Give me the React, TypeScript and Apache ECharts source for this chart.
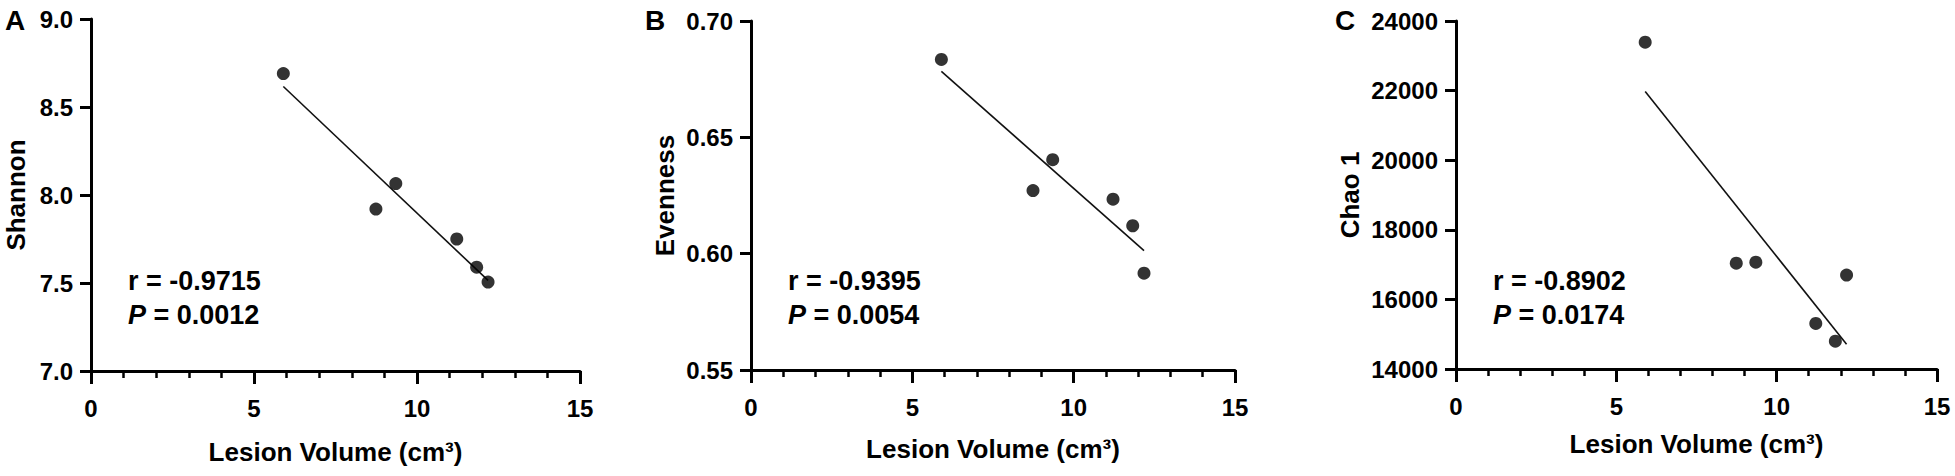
import React, { useEffect, useRef } from "react";
import * as echarts from "echarts";

// Lesion volume (cm³) of the six subjects (shared x values)
const volume = [5.9, 8.74, 9.35, 11.22, 11.83, 12.18];
// Panel values
const shannon = [8.69, 7.92, 8.065, 7.75, 7.59, 7.505];
const evenness = [0.6835, 0.6271, 0.6404, 0.6234, 0.612, 0.5916];
const chao1 = [23390, 17040, 17070, 15310, 14800, 16700];

const panelLetters = ["A", "B", "C"];
const yNames = ["Shannon", "Evenness", "Chao 1"];
const xName = "Lesion Volume (cm³)";
const rTexts = ["-0.9715", "-0.9395", "-0.8902"];
const pTexts = ["0.0012", "0.0054", "0.0174"];
const yMins = [7, 0.55, 14000];
const yMaxs = [9, 0.7, 24000];
const yIntervals = [0.5, 0.05, 2000];
const yDecimals = [1, 2, 0];

const FONT = '"Liberation Sans", Arial, Helvetica, sans-serif';

function fit(xs: number[], ys: number[]) {
  const n = xs.length;
  const mx = xs.reduce((a, b) => a + b, 0) / n;
  const my = ys.reduce((a, b) => a + b, 0) / n;
  let sxy = 0, sxx = 0;
  for (let i = 0; i < n; i++) {
    sxy += (xs[i] - mx) * (ys[i] - my);
    sxx += (xs[i] - mx) * (xs[i] - mx);
  }
  const slope = sxy / sxx;
  const x0 = Math.min(...xs);
  const x1 = Math.max(...xs);
  return [
    [x0, my + slope * (x0 - mx)],
    [x1, my + slope * (x1 - mx)],
  ];
}

export default function App() {
  const ref = useRef<HTMLDivElement>(null);
  useEffect(() => {
    if (!ref.current) return;
    const chart = echarts.init(ref.current, null, { renderer: "svg" });
    const values = [shannon, evenness, chao1];
    const grids = [
      { left: 91, top: 19, width: 489, height: 352 },
      { left: 751, top: 21, width: 484, height: 349 },
      { left: 1456, top: 21, width: 481, height: 348 },
    ];
    const yNameGaps = [62, 73, 93];
    const xNameGaps = [68, 66, 62];
    const letterX = [5, 645, 1335];

    const xAxis = grids.map((_, i) => ({
      type: "value",
      gridIndex: i,
      min: 0,
      max: 15,
      interval: 5,
      name: xName,
      nameLocation: "middle",
      nameGap: xNameGaps[i],
      nameTextStyle: { fontFamily: FONT, fontWeight: "bold", fontSize: 26, color: "#000" },
      axisLine: { show: true, onZero: false, lineStyle: { color: "#000", width: 3 } },
      axisTick: { show: true, length: 13, lineStyle: { color: "#000", width: 3 } },
      minorTick: { show: true, splitNumber: 5, length: 7, lineStyle: { color: "#000", width: 2.5 } },
      axisLabel: { fontFamily: FONT, fontWeight: "bold", fontSize: 24, color: "#000", margin: 25 },
      splitLine: { show: false },
      minorSplitLine: { show: false },
    }));

    const yAxis = grids.map((_, i) => ({
      type: "value",
      gridIndex: i,
      min: yMins[i],
      max: yMaxs[i],
      interval: yIntervals[i],
      name: yNames[i],
      nameLocation: "middle",
      nameGap: yNameGaps[i],
      nameTextStyle: { fontFamily: FONT, fontWeight: "bold", fontSize: 26, color: "#000" },
      axisLine: { show: true, onZero: false, lineStyle: { color: "#000", width: 3 } },
      axisTick: { show: true, length: 11, lineStyle: { color: "#000", width: 3 } },
      axisLabel: {
        fontFamily: FONT,
        fontWeight: "bold",
        fontSize: 24,
        color: "#000",
        margin: 18,
        formatter: (v: number) => v.toFixed(yDecimals[i]),
      },
      splitLine: { show: false },
    }));

    const series: any[] = [];
    values.forEach((ys, i) => {
      series.push({
        type: "line",
        xAxisIndex: i,
        yAxisIndex: i,
        data: fit(volume, ys),
        symbol: "none",
        lineStyle: { color: "#111", width: 1.6 },
        z: 2,
      });
      series.push({
        type: "scatter",
        xAxisIndex: i,
        yAxisIndex: i,
        data: volume.map((x, k) => [x, ys[k]]),
        symbol: "circle",
        symbolSize: 13,
        itemStyle: { color: "#000" },
        z: 3,
      });
    });

    const graphic: any[] = [];
    grids.forEach((g, i) => {
      graphic.push({
        type: "text",
        left: letterX[i],
        top: 6,
        style: { text: panelLetters[i], fontFamily: FONT, fontWeight: "bold", fontSize: 28, fill: "#000" },
      });
      graphic.push({
        type: "text",
        x: g.left + 37,
        y: 281,
        style: {
          text: "r = " + rTexts[i],
          fontFamily: FONT,
          fontWeight: "bold",
          fontSize: 27,
          fill: "#000",
          verticalAlign: "middle",
        },
      });
      graphic.push({
        type: "text",
        x: g.left + 37,
        y: 315,
        style: {
          text: "{i|P} = " + pTexts[i],
          fontFamily: FONT,
          fontWeight: "bold",
          fontSize: 27,
          fill: "#000",
          verticalAlign: "middle",
          rich: {
            i: { fontFamily: FONT, fontWeight: "bold", fontStyle: "italic", fontSize: 27, fill: "#000" },
          },
        },
      });
    });

    chart.setOption({
      animation: false,
      backgroundColor: "#fff",
      grid: grids,
      xAxis,
      yAxis,
      series,
      graphic,
    });
    return () => chart.dispose();
  }, []);
  return (
    <div
      ref={ref}
      style={{ position: "fixed", left: 0, top: 0, width: 1955, height: 476, background: "#fff" }}
    />
  );
}
